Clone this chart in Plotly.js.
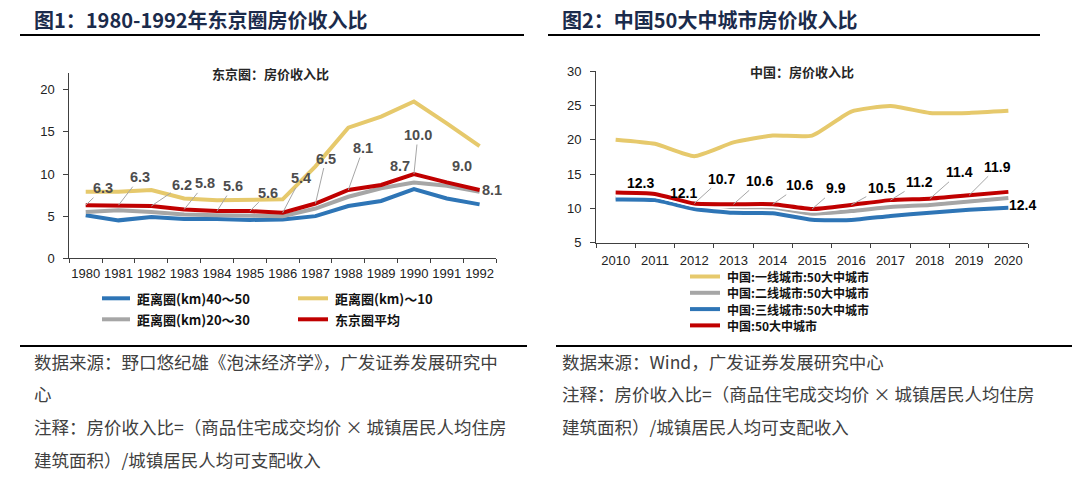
<!DOCTYPE html>
<html><head><meta charset="utf-8">
<script src="https://cdn.plot.ly/plotly-3.0.1.min.js"></script>
<style>html,body{margin:0;padding:0;background:#fff;} #chart{width:1080px;height:477px;}</style>
</head><body><div id="chart"></div>
<script>
// ---------------- data ----------------
const years1 = ['1980','1981','1982','1983','1984','1985','1986','1987','1988','1989','1990','1991','1992'];
const tokyo_40_50 = [5.1, 4.5, 4.9, 4.65, 4.65, 4.55, 4.6, 5.0, 6.2, 6.8, 8.2, 7.1, 6.4];
const tokyo_10    = [7.9, 7.9, 8.1, 7.1, 6.9, 6.9, 7.0, 10.9, 15.5, 16.8, 18.6, 16.0, 13.3];
const tokyo_20_30 = [5.5, 5.7, 5.5, 5.2, 5.1, 5.05, 5.0, 5.9, 7.3, 8.3, 9.0, 8.6, 7.9];
const tokyo_avg   = [6.3, 6.3, 6.2, 5.8, 5.6, 5.6, 5.4, 6.5, 8.1, 8.7, 10.0, 9.0, 8.1];
const names1 = ['距离圈(km)40～50', '距离圈(km)～10', '距离圈(km)20～30', '东京圈平均'];

const years2 = ['2010','2011','2012','2013','2014','2015','2016','2017','2018','2019','2020'];
const cn_tier1 = [20.0, 19.4, 17.6, 19.6, 20.6, 20.6, 24.1, 24.9, 23.9, 23.9, 24.2];
const cn_tier2 = [11.5, 11.4, 10.2, 9.9, 9.8, 9.2, 9.6, 10.2, 10.5, 11.0, 11.5];
const cn_tier3 = [11.3, 11.2, 9.9, 9.35, 9.3, 8.35, 8.3, 8.9, 9.35, 9.8, 10.1];
const cn_top50 = [12.3, 12.1, 10.7, 10.6, 10.6, 9.9, 10.5, 11.2, 11.4, 11.9, 12.4];
const names2 = ['中国:一线城市:50大中城市', '中国:二线城市:50大中城市', '中国:三线城市:50大中城市', '中国:50大中城市'];

// ---------------- styles / positions ----------------
const W = 1080, H = 477;
const PX = v => v / W, PY = v => 1 - v / H;
const C_BLUE = '#2E75B6', C_YEL = '#E6C96C', C_GRAY = '#A6A6A6', C_RED = '#C00000';
const LATIN = 'Liberation Sans, Arial, sans-serif';
const CJK = 'Noto Sans CJK SC, sans-serif';

// label offsets [dx, dy, leader]
const off1 = [[17.6,-17,1],[21.5,-28,1],[31,-21,1],[21,-26,1],[16,-25,1],[18.4,-18.4,1],[18,-34.5,1],[10.5,-45,1],[15,-42,1],[19,-19,0],[4,-39,1],[15,-16,0],[12,0,0]];
const off2 = [[24.4,-9.5,0],[29,-0.6,0],[27.5,-25,1],[26.5,-23.5,1],[27,-19,1],[24,-20.7,1],[30,-16.6,1],[29,-18,1],[30,-26.4,1],[28.6,-28.6,1],[14,13,0]];

// ---------------- traces ----------------
const series1 = [[tokyo_40_50, C_BLUE], [tokyo_10, C_YEL], [tokyo_20_30, C_GRAY], [tokyo_avg, C_RED]];
const traces = [];
series1.forEach((s, i) => traces.push({
  x: years1, y: s[0], name: names1[i], type: 'scatter', mode: 'lines',
  line: {color: s[1], width: 4}, xaxis: 'x', yaxis: 'y', hoverinfo: 'skip'
}));
const series2 = [[cn_tier1, C_YEL], [cn_tier2, C_GRAY], [cn_tier3, C_BLUE], [cn_top50, C_RED]];
series2.forEach((s, i) => {
  traces.push({x: years2, y: s[0], type: 'scatter', mode: 'lines', showlegend: false,
    line: {color: '#ffffff', width: 7.5, shape: 'spline', smoothing: 0.5}, xaxis: 'x2', yaxis: 'y2', hoverinfo: 'skip'});
  traces.push({x: years2, y: s[0], name: names2[i], type: 'scatter', mode: 'lines',
    line: {color: s[1], width: 4, shape: 'spline', smoothing: 0.5}, xaxis: 'x2', yaxis: 'y2', hoverinfo: 'skip'});
});

// ---------------- annotations ----------------
const ann = [];
function txt(x, y, text, font, extra) {
  ann.push(Object.assign({xref: 'paper', yref: 'paper', x: PX(x), y: PY(y), text: text,
    showarrow: false, xanchor: 'left', yanchor: 'middle', font: font}, extra || {}));
}
// titles
const titleFont = {family: CJK, size: 20, color: '#1B2B4B', weight: 700};
txt(32, 20, '图1：1980-1992年东京圈房价收入比', titleFont);
txt(560, 20, '图2：中国50大中城市房价收入比', titleFont);
// subtitles
const subFont = {family: CJK, size: 13, color: '#262626', weight: 700};
txt(270, 73, '东京圈：房价收入比', subFont, {xanchor: 'center'});
txt(802, 72, '中国：房价收入比', subFont, {xanchor: 'center'});

// data labels (x given as category index on the category axis)
function labels(cats, vals, offs, xa, ya, color, lead, size) {
  cats.forEach((c, i) => {
    const o = offs[i];
    const a = {x: i, y: vals[i], xref: xa, yref: ya, text: vals[i].toFixed(1),
      font: {family: LATIN, size: size, color: color, weight: 700}};
    if (o[2]) {
      Object.assign(a, {showarrow: true, ax: o[0], ay: o[1], arrowhead: 0, arrowwidth: 1, arrowcolor: lead, standoff: 0});
    } else {
      Object.assign(a, {showarrow: false, xshift: o[0], yshift: -o[1]});
    }
    ann.push(a);
  });
}
labels(years1, tokyo_avg, off1, 'x', 'y', '#4D4D4D', '#A6A6A6', 14.5);
labels(years2, cn_top50, off2, 'x2', 'y2', '#000000', '#A6A6A6', 14);

// legends (manual)
const shapes = [];
function legItem(x0, x1, y, color, text, size) {
  shapes.push({type: 'line', xref: 'paper', yref: 'paper', x0: PX(x0), x1: PX(x1), y0: PY(y), y1: PY(y),
    line: {color: color, width: 4}});
  txt(x1 + 5, y, text, {family: CJK, size: size, color: '#111', weight: 700});
}
legItem(102, 130, 298.3, C_BLUE, names1[0], 13);
legItem(298, 328, 298.3, C_YEL, names1[1], 13);
legItem(102, 130, 319.3, C_GRAY, names1[2], 13);
legItem(298, 328, 319.3, C_RED, names1[3], 13);
const leg2Colors = [C_YEL, C_GRAY, C_BLUE, C_RED];
const leg2Y = [276.5, 292.8, 309.1, 325.4];
names2.forEach((n, i) => legItem(690, 720, leg2Y[i], leg2Colors[i], n, 12));

// title rules & bottom rules
[[20, 524, 35], [548, 1040, 35], [20, 527, 346], [556, 1072, 346]].forEach(r => shapes.push({
  type: 'line', xref: 'paper', yref: 'paper', x0: PX(r[0]), x1: PX(r[1]), y0: PY(r[2]), y1: PY(r[2]),
  line: {color: '#000', width: 2}}));

// footnotes
const noteFont = {family: CJK, size: 17.5, color: '#404040'};
const notesL = ['数据来源：野口悠纪雄《泡沫经济学》，广发证券发展研究中', '心',
  '注释：房价收入比=（商品住宅成交均价 × 城镇居民人均住房', '建筑面积）/城镇居民人均可支配收入'];
const notesR = ['数据来源：Wind，广发证券发展研究中心',
  '注释：房价收入比=（商品住宅成交均价 × 城镇居民人均住房', '建筑面积）/城镇居民人均可支配收入'];
const noteY = [361, 393.5, 426, 459];
notesL.forEach((t, i) => txt(32, noteY[i], t, noteFont));
notesR.forEach((t, i) => txt(560, noteY[i], t, noteFont));

// ---------------- axes ----------------
const tickFont = {family: LATIN, size: 13, color: '#222'};
const xCommon = {type: 'category', showline: true, linecolor: '#404040', linewidth: 1, ticks: 'outside',
  tickson: 'boundaries', ticklen: 4, tickcolor: '#404040', showgrid: false, zeroline: false,
  tickfont: tickFont, tickangle: 0, fixedrange: true};
const yCommon = {showline: true, linecolor: '#404040', linewidth: 1, ticks: 'outside', ticklen: 5,
  tickcolor: '#404040', showgrid: false, zeroline: false, tickfont: tickFont, fixedrange: true, ticklabelstandoff: 6};

const layout = {
  width: W, height: H, margin: {l: 0, r: 0, t: 0, b: 0},
  paper_bgcolor: '#fff', plot_bgcolor: 'rgba(0,0,0,0)', showlegend: false,
  xaxis: Object.assign({}, xCommon, {domain: [PX(69.3), PX(496)], anchor: 'y', range: [-0.5, 12.5], ticklabelstandoff: 3}),
  yaxis: Object.assign({}, yCommon, {domain: [PY(258.3), PY(73)], anchor: 'x', range: [0, 21.98], tickvals: [0,5,10,15,20]}),
  xaxis2: Object.assign({}, xCommon, {domain: [PX(596), PX(1028)], anchor: 'y2', range: [-0.5, 10.5], ticklabelstandoff: 6}),
  yaxis2: Object.assign({}, yCommon, {domain: [PY(242.7), PY(71)], anchor: 'x2', range: [5, 30], tickvals: [5,10,15,20,25,30]}),
  annotations: ann, shapes: shapes
};
Plotly.newPlot('chart', traces, layout, {staticPlot: true, displayModeBar: false});
</script>
</body></html>
